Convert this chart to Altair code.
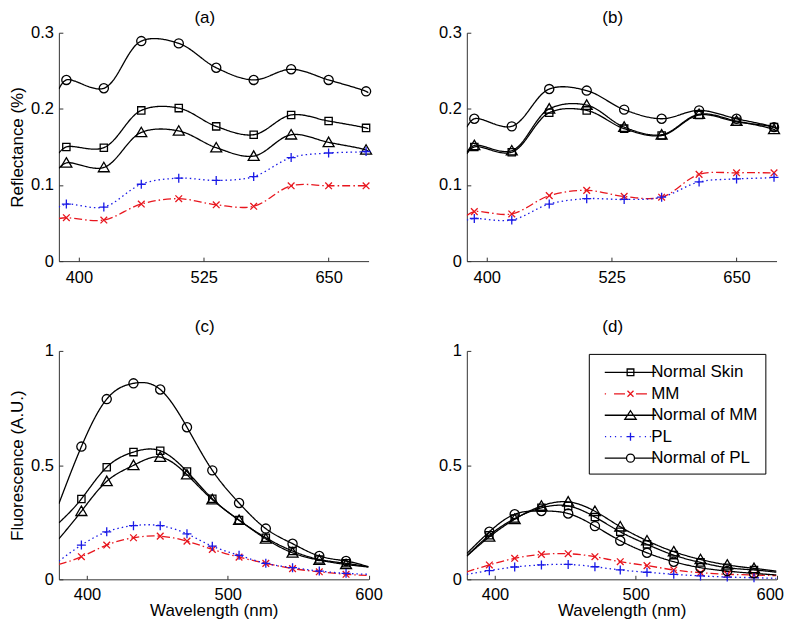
import altair as alt
import pandas as pd

FONT = "Liberation Sans"

series = ["Normal Skin", "MM", "Normal of MM", "PL", "Normal of PL"]
colors = ["#000000", "#e8161e", "#000000", "#1a1ae6", "#000000"]
dashes = [[1, 0], [8, 3, 1.5, 3], [1, 0], [1.5, 3], [1, 0]]

refl_wl = [387.5, 425, 462.5, 500, 537.5, 575, 612.5, 650, 687.5]
fluo_wl = [396, 414, 433, 452, 471, 489, 508, 527, 546, 565, 584]
refl_edges = [380, 690]
fluo_edges = [380, 600]

# (a) reflectance
a_normal_skin = [0.150, 0.149, 0.198, 0.201, 0.177, 0.166, 0.192, 0.184, 0.175]
a_mm = [0.057, 0.054, 0.075, 0.082, 0.074, 0.072, 0.099, 0.099, 0.099]
a_normal_mm = [0.129, 0.123, 0.169, 0.171, 0.149, 0.138, 0.166, 0.156, 0.146]
a_pl = [0.075, 0.071, 0.101, 0.109, 0.106, 0.111, 0.136, 0.142, 0.144]
a_normal_pl = [0.238, 0.227, 0.289, 0.286, 0.254, 0.238, 0.252, 0.238, 0.223]
a_edge_left = [0.142, 0.056, 0.122, 0.071, 0.226]
a_edge_right = [0.174, 0.099, 0.144, 0.145, 0.221]

# (b) reflectance
b_normal_skin = [0.150, 0.143, 0.195, 0.198, 0.174, 0.165, 0.192, 0.183, 0.176]
b_mm = [0.065, 0.062, 0.086, 0.093, 0.085, 0.084, 0.114, 0.116, 0.116]
b_normal_mm = [0.152, 0.145, 0.200, 0.205, 0.176, 0.166, 0.193, 0.184, 0.173]
b_pl = [0.056, 0.054, 0.075, 0.082, 0.081, 0.084, 0.104, 0.108, 0.110]
b_normal_pl = [0.187, 0.177, 0.226, 0.224, 0.199, 0.187, 0.198, 0.187, 0.176]
b_edge_left = [0.141, 0.060, 0.143, 0.054, 0.176]
b_edge_right = [0.174, 0.116, 0.171, 0.111, 0.174]

# (c) fluorescence
c_normal_skin = [0.352, 0.491, 0.557, 0.563, 0.472, 0.353, 0.259, 0.182, 0.124, 0.087, 0.070]
c_mm = [0.099, 0.150, 0.182, 0.189, 0.167, 0.131, 0.097, 0.070, 0.047, 0.033, 0.022]
c_normal_mm = [0.298, 0.429, 0.499, 0.535, 0.458, 0.349, 0.259, 0.177, 0.116, 0.084, 0.065]
c_pl = [0.150, 0.208, 0.235, 0.235, 0.199, 0.145, 0.105, 0.070, 0.051, 0.036, 0.026]
c_normal_pl = [0.581, 0.789, 0.858, 0.831, 0.666, 0.477, 0.334, 0.222, 0.156, 0.102, 0.080]
c_edge_left = [0.247, 0.065, 0.177, 0.080, 0.331]
c_edge_right = [0.054, 0.017, 0.054, 0.022, 0.055]

# (d) fluorescence
d_normal_skin = [0.193, 0.266, 0.313, 0.321, 0.273, 0.208, 0.153, 0.106, 0.074, 0.051, 0.041]
d_mm = [0.063, 0.092, 0.109, 0.112, 0.099, 0.077, 0.060, 0.041, 0.029, 0.022, 0.019]
d_normal_mm = [0.186, 0.263, 0.321, 0.339, 0.298, 0.230, 0.169, 0.121, 0.087, 0.063, 0.048]
d_pl = [0.038, 0.054, 0.063, 0.065, 0.055, 0.041, 0.031, 0.022, 0.015, 0.010, 0.007]
d_normal_pl = [0.208, 0.285, 0.299, 0.288, 0.233, 0.169, 0.116, 0.077, 0.051, 0.036, 0.026]
d_edge_left = [0.102, 0.033, 0.102, 0.022, 0.113]
d_edge_right = [0.031, 0.016, 0.036, 0.004, 0.019]

# marker symbols (unit paths)
marker_paths = [
    "M-0.73,-0.73H0.73V0.73H-0.73Z",
    "M-0.67,-0.67L0.67,0.67M-0.67,0.67L0.67,-0.67",
    "M0,-1.05L1.1,0.85H-1.1Z",
    "M-0.9,0H0.9M0,-0.9V0.9",
    "M0.92,0A0.92,0.92,0,1,1,-0.92,0A0.92,0.92,0,1,1,0.92,0Z",
]

# legend glyphs: a line sample with its marker, drawn as one symbol path
LEG_UNIT = 10.5   # px per path unit for symbol size 441
LEG_SHIFT = 23.3  # px the glyph is moved right inside its entry
HL = 25.8         # half length of the legend line sample, px


def _u(px):
    return round(px / LEG_UNIT, 3)


def _ux(px):
    return round((px + LEG_SHIFT) / LEG_UNIT, 3)


def _hseg(a, b):
    return f"M{_ux(a)},0H{_ux(b)}"


def _square(h):
    return f"M{_ux(-h)},{_u(-h)}H{_ux(h)}V{_u(h)}H{_ux(-h)}Z"


def _xmark(h):
    return f"M{_ux(-h)},{_u(-h)}L{_ux(h)},{_u(h)}M{_ux(-h)},{_u(h)}L{_ux(h)},{_u(-h)}"


def _plus(h):
    return f"M{_ux(-h)},0H{_ux(h)}M{_ux(0)},{_u(-h)}V{_u(h)}"


def _tri(w, top, bot):
    return f"M{_ux(0)},{_u(-top)}L{_ux(w)},{_u(bot)}H{_ux(-w)}Z"


def _circle(r):
    return (f"M{_ux(r)},0A{_u(r)},{_u(r)},0,1,1,{_ux(-r)},0"
            f"A{_u(r)},{_u(r)},0,1,1,{_ux(r)},0Z")


legend_paths = [
    _hseg(-HL, HL) + _square(3.35),
    _hseg(-HL, -HL + 1.3) + _hseg(-16.5, -5.5) + _xmark(3) + _hseg(5.5, 16.5) + _hseg(HL - 1.3, HL),
    _hseg(-HL, HL) + _tri(5.7, 4.5, 4),
    "".join(_hseg(c - 0.6, c + 0.6) for c in (-25, -20, -15, -9.5, 9.5, 15, 20, 25)) + _plus(4),
    _hseg(-HL, -4) + _hseg(4, HL) + _circle(4),
]

W, H = 310.5, 229
LW = 1.3


def build(wl, edges, vals, left, right):
    pts, lines = [], []
    for i, s in enumerate(series):
        lines.append({"series": s, "wl": edges[0], "v": left[i]})
        for w, v in zip(wl, vals[i]):
            pts.append({"series": s, "wl": w, "v": v})
            lines.append({"series": s, "wl": w, "v": v})
        lines.append({"series": s, "wl": edges[1], "v": right[i]})
    return pd.DataFrame(lines), pd.DataFrame(pts)


def panel(label, wl, edges, vals, left, right, yvals, interp, ytitle=None,
          xtitle=None, xlabpad=8.5, legend=False, title_offset=-2.5, flush_last=False):
    lines_df, pts_df = build(wl, edges, vals, left, right)
    ydom = [0, yvals[-1]]
    xvals = [400, 525, 650] if edges[1] == 690 else [400, 500, 600]
    xs = alt.Scale(domain=edges, nice=False, zero=False)
    ys = alt.Scale(domain=ydom, nice=False, zero=False)
    flush_kw = {"labelFlush": 1, "labelFlushOffset": 7} if flush_last else {"labelFlush": False}
    xaxis = alt.Axis(values=xvals, title=xtitle, labelFont=FONT, labelFontSize=16.5,
                     labelColor="black", labelPadding=xlabpad,
                     ticks=False, tickSize=0, domainColor="#333", grid=False,
                     titleFont=FONT, titleFontSize=17, titleFontWeight="normal",
                     titleColor="black", titlePadding=0, **flush_kw)
    yaxis = alt.Axis(values=yvals, format="~g", title=ytitle, labelFont=FONT,
                     labelFontSize=16.5, labelColor="black", labelPadding=5.5,
                     labelFlush=False, ticks=False, tickSize=0, domainColor="#333",
                     grid=False, titleFont=FONT, titleFontSize=17,
                     titleFontWeight="normal", titleColor="black", titlePadding=3.6)
    # inward tick marks: tick-only axes anchored on the opposite side, moved onto the frame
    xtick_axis = alt.Axis(values=xvals, orient="top", offset=-H, labels=False, domain=False,
                          ticks=True, tickSize=4, tickColor="#333", grid=False, title=None)
    ytick_axis = alt.Axis(values=yvals, orient="right", offset=-W, labels=False, domain=False,
                          ticks=True, tickSize=4, tickColor="#333", grid=False, title=None)
    color = alt.Color("series:N", scale=alt.Scale(domain=series, range=colors), legend=None)
    lines = alt.Chart(lines_df).mark_line(interpolate=interp, strokeWidth=LW, clip=True).encode(
        x=alt.X("wl:Q", scale=xs, axis=xaxis),
        y=alt.Y("v:Q", scale=ys, axis=yaxis),
        color=color,
        strokeDash=alt.StrokeDash("series:N", scale=alt.Scale(domain=series, range=dashes), legend=None),
    )
    points = alt.Chart(pts_df).mark_point(filled=False, size=100, strokeWidth=LW, opacity=1).encode(
        x=alt.X("wl:Q", scale=xs, axis=xtick_axis),
        y=alt.Y("v:Q", scale=ys, axis=ytick_axis),
        color=color,
        shape=alt.Shape("series:N", scale=alt.Scale(domain=series, range=marker_paths), legend=None),
    )
    layers = [lines, points]
    if legend:
        leg = alt.Legend(title=None, orient="none", legendX=122.3, legendY=3,
                         direction="vertical", strokeColor="black", fillColor="white",
                         padding=7, symbolSize=441, symbolStrokeWidth=LW, symbolOpacity=1,
                         rowPadding=1.5, symbolOffset=0, labelOffset=32.5,
                         labelFont=FONT, labelFontSize=17, labelColor="black",
                         cornerRadius=0)
        # invisible, clipped carrier of the legend scales
        dummy = alt.Chart(pts_df).transform_calculate(entry="datum.series").mark_point(
            filled=False, opacity=0, size=441, strokeWidth=LW, clip=True).encode(
            x=alt.X("wl:Q", scale=xs, axis=None),
            y=alt.Y("v:Q", scale=ys, axis=None),
            shape=alt.Shape("entry:N", scale=alt.Scale(domain=series, range=legend_paths), legend=leg),
            color=alt.Color("entry:N", scale=alt.Scale(domain=series, range=colors), legend=leg),
        )
        layers.append(dummy)
    ch = alt.layer(*layers).properties(
        width=W, height=H,
        title=alt.TitleParams(label, font=FONT, fontSize=17, fontWeight="normal",
                              color="black", offset=title_offset, dx=-9, anchor="middle"),
    )
    ch = ch.resolve_axis(x="independent", y="independent")
    if legend:
        ch = ch.resolve_scale(color="independent", shape="independent", strokeDash="independent")
    return ch


pa = panel("(a)", refl_wl, refl_edges, [a_normal_skin, a_mm, a_normal_mm, a_pl, a_normal_pl],
           a_edge_left, a_edge_right, [0, 0.1, 0.2, 0.3], "catmull-rom", ytitle="Reflectance (%)")
pb = panel("(b)", refl_wl, refl_edges, [b_normal_skin, b_mm, b_normal_mm, b_pl, b_normal_pl],
           b_edge_left, b_edge_right, [0, 0.1, 0.2, 0.3], "catmull-rom")
pc = panel("(c)", fluo_wl, fluo_edges, [c_normal_skin, c_mm, c_normal_mm, c_pl, c_normal_pl],
           c_edge_left, c_edge_right, [0, 0.5, 1], "natural", ytitle="Fluorescence (A.U.)",
           xtitle="Wavelength (nm)", xlabpad=7, title_offset=7)
pd_ = panel("(d)", fluo_wl, fluo_edges, [d_normal_skin, d_mm, d_normal_mm, d_pl, d_normal_pl],
            d_edge_left, d_edge_right, [0, 0.5, 1], "natural", xtitle="Wavelength (nm)",
            xlabpad=7, legend=True, title_offset=7, flush_last=True)

chart = alt.concat(pa, pb, pc, pd_, columns=2, spacing={"row": 90, "column": 98},
                   bounds="flush").properties(padding=0).configure_view(stroke=None)

chart.save("out.html", embed_options={"renderer": "svg", "actions": False})
